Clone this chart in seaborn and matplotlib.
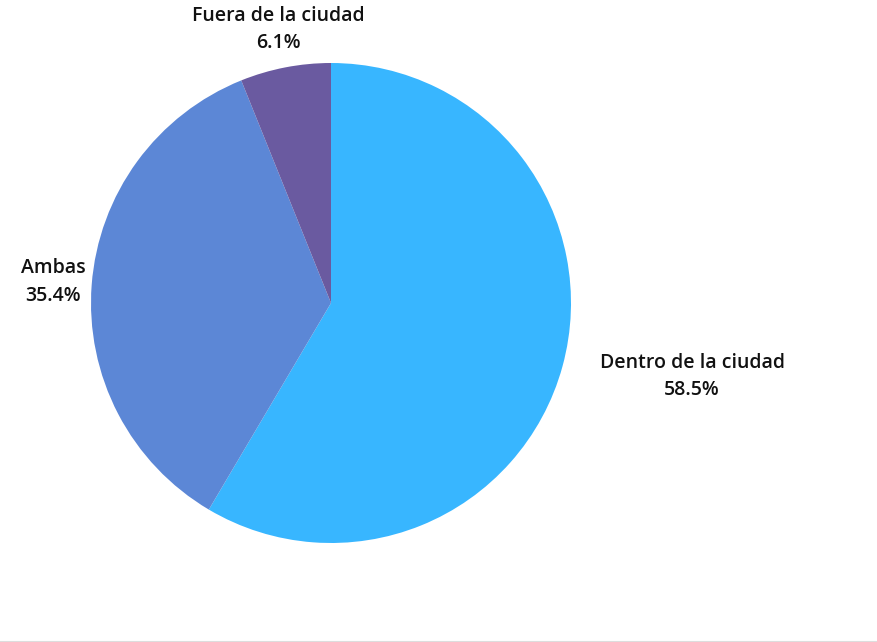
import numpy as np
import matplotlib.pyplot as plt
from matplotlib.lines import Line2D
import seaborn as sns

sns.set_theme(style="white")
plt.rcParams['font.family'] = ['Open Sans', 'DejaVu Sans']

categorias = ['Dentro de la ciudad', 'Ambas', 'Fuera de la ciudad']
porcentajes = [58.5, 35.4, 6.1]
colores = ['#38b6ff', '#5c87d6', '#6a5aa0']

fig = plt.figure(figsize=(8.77, 6.42), dpi=100)
fig.patch.set_facecolor('white')
ax = fig.add_axes([91 / 877, 99 / 642, 480 / 877, 480 / 642])

etiquetas = [f'{c}\n{p:.1f}%' for c, p in zip(categorias, porcentajes)]
wedges, texts = ax.pie(porcentajes, labels=etiquetas, colors=sns.color_palette(colores),
                       startangle=90, counterclock=False, radius=1, labeldistance=1.16,
                       wedgeprops={'linewidth': 0},
                       textprops={'fontsize': 14, 'fontweight': 'semibold', 'fontstretch': 'normal',
                                  'color': '#111111',
                                  'linespacing': 1.5, 'multialignment': 'center'})
for t in texts:
    x, _ = t.get_position()
    t.set_ha('left' if x > 0 else 'center')
    t.set_va('center')

ax.set_xlim(-1, 1)
ax.set_ylim(-1, 1)
ax.set_aspect('equal')
ax.axis('off')

fig.add_artist(Line2D([0, 1], [0.5 / 642, 0.5 / 642], color='#dddddd', linewidth=1.5,
                      transform=fig.transFigure))

plt.savefig('out.png', dpi=100, facecolor='white')
